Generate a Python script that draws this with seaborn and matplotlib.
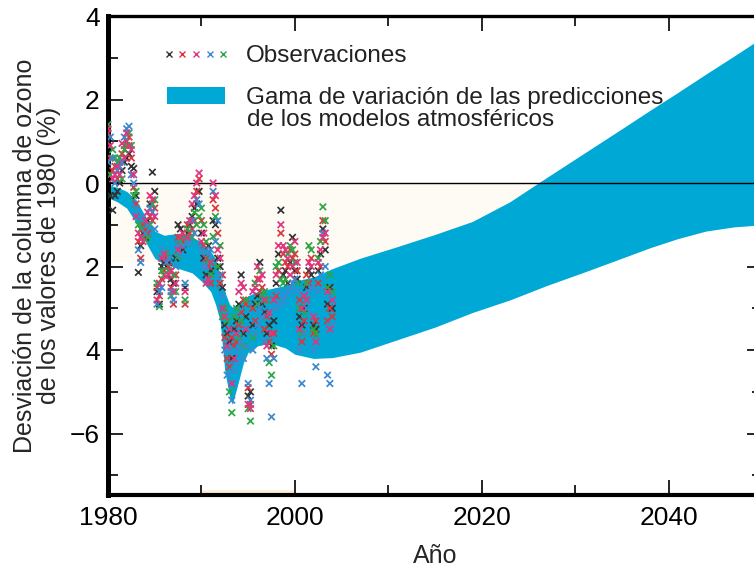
import numpy as np
import pandas as pd
import matplotlib
matplotlib.use("Agg")
import matplotlib.pyplot as plt
import seaborn as sns
from matplotlib.lines import Line2D
from matplotlib.patches import Patch
from matplotlib.legend_handler import HandlerTuple

# model band (range of atmospheric model predictions)
band_years = [1980, 1981, 1982, 1983, 1984, 1985, 1986, 1987, 1988, 1989, 1990, 1991, 1991.5,
              1992, 1992.5, 1993, 1993.3, 1993.8, 1994.5, 1995, 1996, 1997, 1998, 1999, 2000,
              2002, 2004, 2007, 2011, 2015, 2019, 2023, 2027, 2031, 2035, 2038, 2041, 2044,
              2047, 2050]
band_upper = [-0.05, -0.1, -0.2, -0.4, -0.8, -1.15, -1.25, -1.22, -1.2, -1.3, -1.4, -1.65, -1.8,
              -2.2, -2.6, -2.9, -2.97, -2.9, -2.8, -2.7, -2.6, -2.55, -2.5, -2.45, -2.35,
              -2.25, -2.05, -1.8, -1.52, -1.23, -0.92, -0.45, 0.14, 0.72, 1.3, 1.74, 2.17, 2.61,
              3.04, 3.48]
band_lower = [-0.35, -0.45, -0.6, -0.95, -1.4, -1.8, -1.95, -2.0, -2.08, -2.15, -2.35, -2.6, -2.9,
              -3.3, -4.5, -5.1, -5.3, -4.9, -4.3, -4.05, -3.9, -3.85, -3.88, -3.95, -4.1,
              -4.2, -4.18, -4.05, -3.75, -3.45, -3.1, -2.8, -2.45, -2.13, -1.8, -1.55, -1.33, -1.15,
              -1.05, -1.0]

# faint beige background patch and bottom strip
shade_years = [1980, 2027]
strip_years = [1990, 2000]

# observations, quarterly
obs_years = [
    1980.0, 1980.25, 1980.5, 1980.75, 1981.0, 1981.25, 1981.5, 1981.75,
    1982.0, 1982.25, 1982.5, 1982.75, 1983.0, 1983.25, 1983.5, 1983.75,
    1984.0, 1984.25, 1984.5, 1984.75, 1985.0, 1985.25, 1985.5, 1985.75,
    1986.0, 1986.25, 1986.5, 1986.75, 1987.0, 1987.25, 1987.5, 1987.75,
    1988.0, 1988.25, 1988.5, 1988.75, 1989.0, 1989.25, 1989.5, 1989.75,
    1990.0, 1990.25, 1990.5, 1990.75, 1991.0, 1991.25, 1991.5, 1991.75,
    1992.0, 1992.25, 1992.5, 1992.75, 1993.0, 1993.25, 1993.5, 1993.75,
    1994.0, 1994.25, 1994.5, 1994.75, 1995.0, 1995.25, 1995.5, 1995.75,
    1996.0, 1996.25, 1996.5, 1996.75, 1997.0, 1997.25, 1997.5, 1997.75,
    1998.0, 1998.25, 1998.5, 1998.75, 1999.0, 1999.25, 1999.5, 1999.75,
    2000.0, 2000.25, 2000.5, 2000.75, 2001.0, 2001.25, 2001.5, 2001.75,
    2002.0, 2002.25, 2002.5, 2002.75, 2003.0, 2003.25, 2003.5, 2003.75,
    2004.0]

obs_black = [
    1.0, -0.3, -0.65, -0.3, -0.2, 0.0, 0.3, 0.5,
    0.6, 0.7, 0.4, 0.35, -0.3, -2.14, -1.5, -1.2,
    -1.3, -0.9, -0.5, 0.26, -0.2, -2.6, -2.9, -2.0,
    -1.9, -2.0, -1.9, -2.3, -2.4, -1.8, -1.0, -1.1,
    -1.6, -2.5, -1.2, -1.0, -0.8, -0.6, -0.5, -0.2,
    -1.2, -1.8, -2.2, -1.5, -2.1, -0.9, -1.0, -1.8,
    -2.0, -2.5, -3.4, -3.6, -3.8, -4.2, -3.5, -3.3,
    -2.9, -2.2, -3.6, -3.2, -5.1, -5.0, -3.4, -2.9,
    -2.7, -1.9, -2.9, -3.1, -3.6, -3.4, -3.9, -3.3,
    -2.4, -1.7, -0.65, -2.2, -2.1, -2.4, -1.9, -1.3,
    -2.1, -2.3, -3.2, -3.4, -3.0, -2.5, -2.1, -2.2,
    -3.4, -3.5, -2.1, -1.7, -1.1, -1.6, -2.9, -2.5,
    -3.0]
obs_red = [
    1.2, 0.6, 0.3, 0.4, 0.1, 0.5, 0.7, 0.9,
    1.0, 1.1, 0.6, -0.1, -0.5, -1.4, -1.8, -1.0,
    -1.1, -1.2, -0.8, -0.9, -0.6, -2.5, -2.7, -2.3,
    -2.1, -1.8, -2.0, -2.5, -2.9, -2.2, -1.3, -1.5,
    -1.4, -2.9, -1.0, -1.2, -1.1, -0.9, -0.2, 0.1,
    -0.9, -1.5, -1.8, -2.0, -2.4, -0.4, -0.6, -1.2,
    -2.4, -2.2, -3.7, -4.2, -4.4, -3.7, -3.9, -3.8,
    -3.4, -3.1, -2.8, -2.9, -4.9, -5.3, -3.0, -3.3,
    -2.3, -2.6, -2.5, -3.5, -3.2, -3.8, -4.1, -3.6,
    -2.7, -2.1, -1.2, -1.7, -1.9, -2.0, -1.6, -1.8,
    -1.7, -2.1, -2.8, -3.8, -3.3, -2.2, -2.4, -1.8,
    -3.6, -3.3, -2.4, -2.0, -0.9, -1.4, -3.3, -3.0,
    -3.2]
obs_pink = [
    1.3, 0.9, 0.1, 0.2, 0.4, 0.2, 0.95, 0.6,
    1.2, 0.9, 0.8, 0.2, -0.8, -1.2, -1.3, -1.4,
    -0.9, -0.7, -0.3, -0.4, -0.8, -2.8, -2.4, -1.8,
    -1.7, -2.24, -2.2, -2.1, -2.6, -2.4, -1.6, -1.3,
    -1.2, -2.6, -1.3, -0.9, -0.5, -0.3, 0.0, 0.24,
    -1.4, -1.2, -2.4, -2.3, -1.9, 0.0, -0.3, -1.6,
    -1.8, -3.0, -3.2, -3.9, -3.5, -4.8, -4.2, -3.6,
    -2.6, -2.4, -2.5, -3.5, -5.3, -5.4, -2.6, -2.5,
    -2.0, -2.3, -2.2, -2.8, -3.9, -3.1, -3.6, -2.8,
    -2.2, -1.5, -1.0, -1.5, -1.6, -1.8, -2.2, -2.0,
    -1.4, -1.9, -3.5, -3.0, -2.7, -2.8, -1.9, -2.0,
    -3.2, -3.8, -1.9, -1.6, -1.3, -1.2, -2.6, -3.5,
    -2.8]
obs_blue = [
    0.5, 1.1, 0.6, 0.0, 0.3, 0.4, 0.5, 1.1,
    1.3, 1.36, 0.2, 0.0, -0.6, -1.6, -1.9, -0.8,
    -1.2, -1.0, -0.6, -0.7, -1.1, -2.9, -2.6, -2.5,
    -1.6, -1.9, -1.8, -2.6, -2.8, -2.0, -1.5, -1.7,
    -1.5, -2.4, -1.44, -1.4, -0.9, -1.2, -0.4, -0.5,
    -1.6, -2.0, -2.0, -1.7, -1.6, -0.2, -1.4, -0.9,
    -2.2, -2.7, -4.0, -4.6, -4.0, -5.2, -4.5, -4.3,
    -4.0, -3.8, -4.2, -3.9, -4.8, -5.2, -4.0, -3.6,
    -3.4, -3.0, -3.2, -3.8, -4.2, -4.8, -5.6, -4.2,
    -3.0, -2.6, -2.9, -2.8, -2.7, -2.6, -2.5, -2.4,
    -2.3, -2.6, -4.0, -4.8, -3.6, -3.0, -2.6, -2.5,
    -4.0, -4.4, -2.6, -2.2, -1.2, -2.0, -4.6, -4.8,
    -3.4]
obs_green = [
    1.4, 0.2, 0.8, 0.6, 0.5, 0.6, 0.1, 0.8,
    0.9, 1.2, 0.9, -0.3, -0.2, -1.0, -1.1, -1.3,
    -1.36, -1.3, -1.0, -0.5, -0.4, -2.4, -2.96, -2.1,
    -2.2, -1.7, -2.1, -2.7, -2.2, -2.6, -1.76, -1.4,
    -1.3, -2.8, -1.1, -1.3, -1.3, -0.7, -1.0, -0.8,
    -0.6, -1.0, -1.4, -1.9, -2.2, -1.28, -0.8, -2.0,
    -1.5, -3.2, -3.0, -3.3, -5.0, -5.5, -3.2, -3.0,
    -3.7, -3.3, -3.9, -2.8, -5.4, -5.7, -3.7, -2.4,
    -2.9, -2.1, -2.7, -2.6, -2.8, -4.3, -4.6, -3.9,
    -2.0, -1.9, -2.3, -2.4, -2.3, -1.7, -1.5, -1.6,
    -1.9, -2.4, -3.0, -3.6, -3.1, -2.4, -1.5, -1.6,
    -3.5, -3.6, -1.8, -1.4, -0.57, -0.9, -2.5, -2.2,
    -2.6]

series_names = ["negro", "rojo", "rosa", "azul", "verde"]
series_colors = ["#333333", "#d8383f", "#e0357f", "#3a8ad0", "#2ea646"]
band_color = "#00a8d6"

# draw order: pink last so it dominates like in the original
draw_order = [("negro", obs_black), ("rojo", obs_red), ("verde", obs_green),
              ("azul", obs_blue), ("rosa", obs_pink)]
obs = pd.concat([pd.DataFrame({"year": obs_years, "value": vals, "serie": name})
                 for name, vals in draw_order], ignore_index=True)

sns.set_theme(style="ticks")
plt.rcParams["font.family"] = ["Liberation Sans", "DejaVu Sans"]

fig = plt.figure(figsize=(7.54, 5.71), dpi=100)
ax = fig.add_axes([108 / 754, 1 - 495 / 571, (762 - 108) / 754, (495 - 16) / 571])

# faint beige background
ax.fill_between(shade_years, [0, 0], [-1.9, -1.9], color="#fefbf4", lw=0, zorder=0)
ax.fill_between(strip_years, [-7.47, -7.47], [-7.35, -7.35], color="#fcefd6", lw=0, zorder=0)

ax.fill_between(band_years, band_lower, band_upper, color=band_color, lw=0, zorder=1)
ax.axhline(0, color="black", lw=1.0, zorder=2)

sns.scatterplot(data=obs, x="year", y="value", hue="serie",
                hue_order=series_names, palette=dict(zip(series_names, series_colors)),
                marker="x", s=22, linewidth=1.25, legend=False, ax=ax, zorder=3)

ax.set_xlim(1980, 2050)
ax.set_ylim(-7.47, 4)
ax.set_xticks([1980, 2000, 2020, 2040])
ax.set_xticks([1990, 2010, 2030], minor=True)
ax.set_yticks([-6, -4, -2, 0, 2, 4])
ax.set_yticklabels(["\u22126", "4", "2", "0", "2", "4"])
ax.set_yticks([-7, -5, -3, -1, 1, 3], minor=True)
ax.tick_params(which="both", direction="in", top=True, right=True, labelsize=19,
               color="black", labelcolor="black", width=1.2)
ax.tick_params(which="major", length=11)
ax.tick_params(which="minor", length=7)
ax.tick_params(axis="x", pad=8)
ax.tick_params(axis="y", pad=6)

for side, w in [("left", 3.6), ("bottom", 3.0), ("top", 2.4), ("right", 2.4)]:
    ax.spines[side].set_linewidth(w)
    ax.spines[side].set_color("black")

ax.set_xlabel("Año", fontsize=18, labelpad=10)
ax.set_ylabel("Desviación de la columna de ozono\nde los valores de 1980 (%)", fontsize=18,
              linespacing=1.0)
ax.yaxis.set_label_coords(-0.072, 0.5)

obs_handle = tuple(Line2D([], [], marker="x", ls="", color=c, ms=4, mew=1.0) for c in series_colors)
band_handle = Patch(color=band_color, lw=0)
leg = ax.legend([obs_handle, band_handle],
                ["Observaciones", "Gama de variación de las predicciones"],
                handler_map={tuple: HandlerTuple(ndivide=None, pad=0.4)},
                loc="upper left", bbox_to_anchor=(0.09, 0.939), frameon=False, fontsize=17.5,
                handlelength=2.4, handleheight=0.7, handletextpad=0.85, labelspacing=0.83,
                borderpad=0, borderaxespad=0)
for t in leg.get_texts():
    t.set_color("#222222")
ax.text(0.2125, 0.783, "de los modelos atmosféricos", transform=ax.transAxes,
        fontsize=17.5, color="#222222", ha="left", va="center")

fig.savefig("out.png", dpi=100)
